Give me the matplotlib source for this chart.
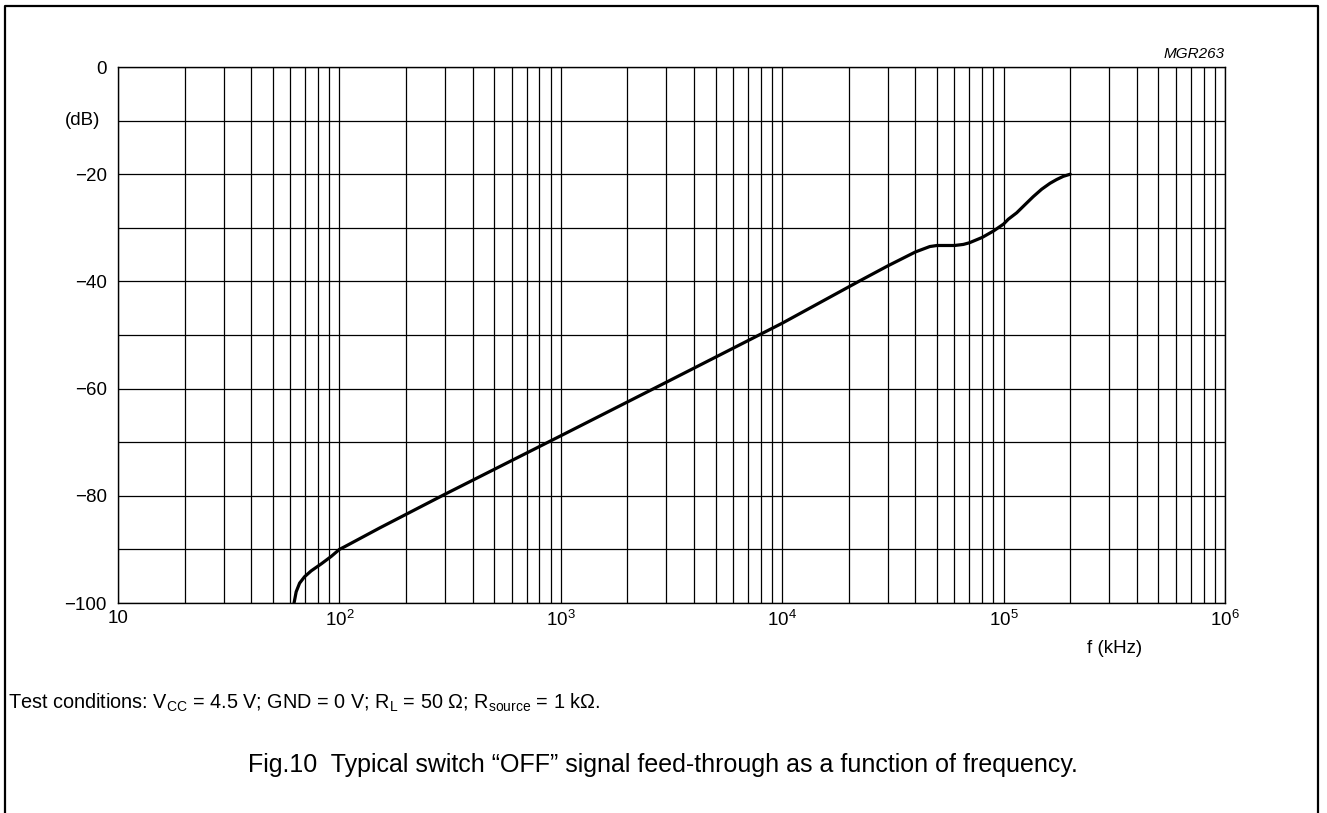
import matplotlib
matplotlib.use("Agg")
import matplotlib.pyplot as plt
from matplotlib.lines import Line2D
import numpy as np

plt.rcParams['font.family'] = ['Liberation Sans', 'DejaVu Sans']
plt.rcParams['mathtext.fontset'] = 'custom'
plt.rcParams['mathtext.rm'] = 'Liberation Sans'
plt.rcParams['mathtext.it'] = 'Liberation Sans:italic'
plt.rcParams['mathtext.default'] = 'regular'

# data
freq_khz = [62.4, 63.8, 66.1, 69.6, 74.6, 82.8, 91.9, 100, 105.6, 152, 300, 1000,
            3000, 10000, 22400, 30000, 40000, 46400, 50000, 60000, 65800, 70000,
            80000, 90000, 100000, 105000, 114600, 124800, 136000, 148600, 162000,
            173500, 186000, 200000]
feedthrough_db = [-100, -97.9, -96.3, -95.1, -94.0, -92.7, -91.3, -90.0, -89.5, -86.0, -79.7, -68.8,
                  -58.8, -47.8, -39.9, -37.1, -34.5, -33.5, -33.3, -33.3, -33.1, -32.8,
                  -31.8, -30.6, -29.3, -28.4, -27.2, -25.7, -24.2, -22.8, -21.7,
                  -21.0, -20.4, -20.0]
y_ticks = [0, -20, -40, -60, -80, -100]
y_tick_labels = ['0', '\u221220', '\u221240', '\u221260', '\u221280', '\u2212100']
x_ticks = [10, 1e2, 1e3, 1e4, 1e5, 1e6]
x_tick_labels = ['10', '10$^{2}$', '10$^{3}$', '10$^{4}$', '10$^{5}$', '10$^{6}$']

W, H = 1327, 813
fig = plt.figure(figsize=(W / 100, H / 100), dpi=100)
ax = fig.add_axes([118 / W, 1 - 603 / H, (1225 - 118) / W, (603 - 67) / H])

ax.set_xscale('log')
ax.set_xlim(10, 1e6)
ax.set_ylim(-100, 0)

ax.plot(freq_khz, feedthrough_db, color='black', lw=2.3, solid_capstyle='round',
        solid_joinstyle='round')

fs = 13.5
ax.set_yticks(y_ticks)
ax.set_yticklabels(y_tick_labels, fontsize=fs)
ax.set_yticks(np.arange(-90, 0, 20), minor=True)
ax.set_xticks(x_ticks)
ax.set_xticklabels(x_tick_labels, fontsize=fs)
ax.xaxis.set_minor_locator(matplotlib.ticker.LogLocator(base=10, subs=np.arange(2, 10)))
ax.xaxis.set_minor_formatter(matplotlib.ticker.NullFormatter())
ax.tick_params(which='both', length=0)
ax.tick_params(axis='y', pad=8)
ax.tick_params(axis='x', pad=5)
ax.grid(True, which='both', color='black', lw=0.9)
for s in ax.spines.values():
    s.set_linewidth(1.0)
    s.set_color('black')

ax.text(-0.016, 0.9, '(dB)', transform=ax.transAxes, ha='right', va='center', fontsize=fs)
ax.text(0.9, -0.085, 'f (kHz)', transform=ax.transAxes, ha='center', va='center', fontsize=fs)
ax.text(1.0, 1.012, 'MGR263', transform=ax.transAxes, ha='right', va='bottom',
        fontsize=11, style='italic')

fig.text(8 / W, 1 - 703 / H,
         'Test conditions: V$_{CC}$ = 4.5 V; GND = 0 V; R$_{L}$ = 50 \u03a9; R$_{source}$ = 1 k\u03a9.',
         ha='left', va='center', fontsize=14.3)
fig.text(663 / W, 1 - 765 / H,
         'Fig.10  Typical switch \u201cOFF\u201d signal feed-through as a function of frequency.',
         ha='center', va='center', fontsize=18)

# page frame
fx0, fx1, fy0 = 5 / W, 1318 / W, 1 - 6 / H
fig.add_artist(Line2D([fx0, fx0, fx1, fx1], [0, fy0, fy0, 0], transform=fig.transFigure,
                      color='black', lw=1.6))

fig.savefig('out.png', dpi=100)
